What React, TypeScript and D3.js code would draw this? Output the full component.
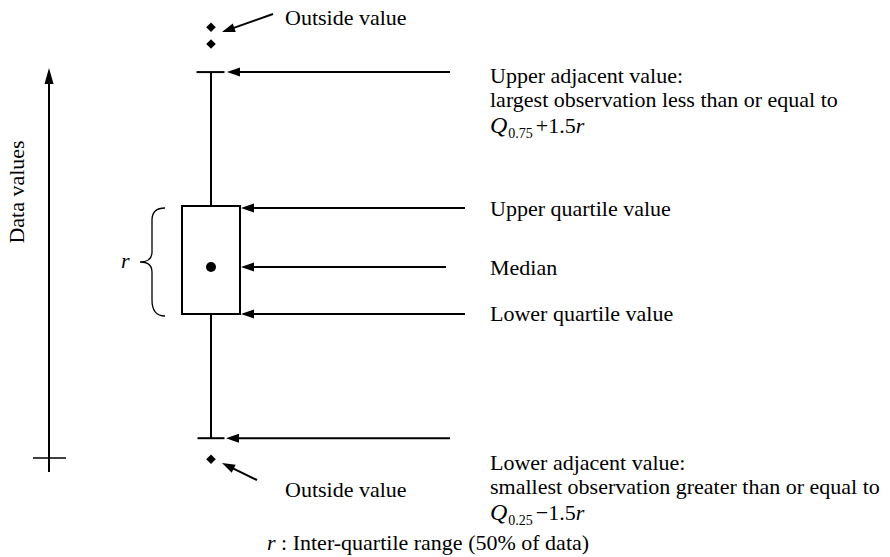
import * as d3 from 'd3';

// box plot statistics (data units)
const quartiles = [40, 60];
const median = 48.7;
const adjacent = [17, 84.8];
const outsideValues = [93.1, 90, 13.1];

const labelsUpperAdj = ['Upper adjacent value:', 'largest observation less than or equal to'];
const labelsLowerAdj = ['Lower adjacent value:', 'smallest observation greater than or equal to'];
const labelUpperQ = 'Upper quartile value';
const labelMedian = 'Median';
const labelLowerQ = 'Lower quartile value';
const labelOutside = 'Outside value';
const axisTitle = 'Data values';
const footnote = ': Inter-quartile range (50% of data)';

const W = 890;
const H = 557;
const FONT = "'Liberation Serif', 'DejaVu Serif', serif";
const FS = 22;

const Arrow = ({ x1, y1, x2, y2 }: { x1: number; y1: number; x2: number; y2: number }) => {
  // arrow from (x1,y1) tail to (x2,y2) tip
  const ang = Math.atan2(y2 - y1, x2 - x1);
  const len = 13;
  const half = 4.5;
  const bx = x2 - len * Math.cos(ang);
  const by = y2 - len * Math.sin(ang);
  const px = -Math.sin(ang) * half;
  const py = Math.cos(ang) * half;
  return (
    <g>
      <line x1={x1} y1={y1} x2={bx + 2 * Math.cos(ang)} y2={by + 2 * Math.sin(ang)} stroke="#000" strokeWidth={2} />
      <path d={`M${x2},${y2}L${bx + px},${by + py}L${bx - px},${by - py}Z`} fill="#000" />
    </g>
  );
};

export default function App() {
  const y = d3.scaleLinear().domain([0, 100]).range([530, -10]);
  const cx = 211;
  const boxW = 58;
  const capW = 27;
  const diamond = d3.symbol(d3.symbolSquare, 46)()!;

  const yQ1 = y(quartiles[0]);
  const yQ3 = y(quartiles[1]);
  const yLo = y(adjacent[0]);
  const yHi = y(adjacent[1]);
  const yMed = y(median);

  // curly brace for r
  const bx = 165;
  const bm = 152;
  const tip = 140;
  const midY = (yQ1 + yQ3) / 2 + 2;
  const brace = d3.path();
  brace.moveTo(bx, yQ3 + 2);
  brace.quadraticCurveTo(bm, yQ3 + 2, bm, yQ3 + 14);
  brace.lineTo(bm, midY - 10);
  brace.quadraticCurveTo(bm, midY, tip, midY);
  brace.quadraticCurveTo(bm, midY, bm, midY + 10);
  brace.lineTo(bm, yQ1 - 14);
  brace.quadraticCurveTo(bm, yQ1 + 2, bx, yQ1 + 2);

  const tx = 490;
  const lh = 24;
  const ts = { fontFamily: FONT, fontSize: FS };

  return (
    <svg width={W} height={H} style={{ position: 'absolute', left: 0, top: 0, background: '#fff', fontFamily: FONT, fontSize: FS }}>
      <rect width={W} height={H} fill="#fff" />

      {/* y axis */}
      <line x1={49} y1={472} x2={49} y2={82} stroke="#000" strokeWidth={2} />
      <path d="M49,68L44.5,84L53.5,84Z" fill="#000" />
      <line x1={33} y1={458} x2={66} y2={458} stroke="#000" strokeWidth={1.5} />
      <text style={ts} transform={`translate(24,192) rotate(-90)`} textAnchor="middle">{axisTitle}</text>

      {/* whiskers */}
      <line x1={cx} y1={yHi} x2={cx} y2={yQ3} stroke="#000" strokeWidth={2} />
      <line x1={cx} y1={yQ1} x2={cx} y2={yLo} stroke="#000" strokeWidth={2} />
      <line x1={cx - capW / 2 - 1} y1={yHi} x2={cx + capW / 2} y2={yHi} stroke="#000" strokeWidth={2} />
      <line x1={cx - capW / 2} y1={yLo} x2={cx + capW / 2} y2={yLo} stroke="#000" strokeWidth={2} />

      {/* box */}
      <rect x={cx - 29} y={yQ3} width={boxW} height={yQ1 - yQ3} fill="none" stroke="#000" strokeWidth={2} />
      <circle cx={cx} cy={yMed} r={5} fill="#000" />

      {/* outside values */}
      {outsideValues.map((v, i) => (
        <path key={i} d={diamond} transform={`translate(${cx},${y(v)}) rotate(45)`} fill="#000" />
      ))}

      {/* brace */}
      <path d={brace.toString()} fill="none" stroke="#000" strokeWidth={1.3} />
      <text style={{ ...ts, fontStyle: 'italic' }} x={121} y={midY + 6}>r</text>

      {/* arrows */}
      <Arrow x1={450} y1={yHi} x2={227} y2={yHi} />
      <Arrow x1={465} y1={yQ3 + 2} x2={241} y2={yQ3 + 2} />
      <Arrow x1={446} y1={yMed} x2={241} y2={yMed} />
      <Arrow x1={465} y1={yQ1} x2={241} y2={yQ1} />
      <Arrow x1={450} y1={yLo} x2={226} y2={yLo} />
      <Arrow x1={273} y1={14} x2={222} y2={32} />
      <Arrow x1={257} y1={480} x2={222} y2={463} />

      {/* labels */}
      <text style={ts} x={285} y={25}>{labelOutside}</text>
      <text style={ts} x={285} y={497}>{labelOutside}</text>

      <text style={ts} x={tx} y={83}>{labelsUpperAdj[0]}</text>
      <text style={ts} x={tx} y={83 + lh}>{labelsUpperAdj[1]}</text>
      <text style={{ ...ts, fontSize: 20 }} x={tx} y={84 + 2 * lh + 1}>
        <tspan fontStyle="italic" fontSize={24}>Q</tspan>
        <tspan fontSize={14} dy={5} dx={1}>0.75</tspan>
        <tspan dy={-5} dx={3} fontSize={22}>{'+1.5'}</tspan>
        <tspan fontStyle="italic" fontSize={22}>r</tspan>
      </text>

      <text style={ts} x={tx} y={216}>{labelUpperQ}</text>
      <text style={ts} x={tx} y={275}>{labelMedian}</text>
      <text style={ts} x={tx} y={321}>{labelLowerQ}</text>

      <text style={ts} x={tx} y={470}>{labelsLowerAdj[0]}</text>
      <text style={ts} x={tx} y={470 + lh}>{labelsLowerAdj[1]}</text>
      <text style={{ ...ts, fontSize: 20 }} x={tx} y={471 + 2 * lh + 1}>
        <tspan fontStyle="italic" fontSize={24}>Q</tspan>
        <tspan fontSize={14} dy={5} dx={1}>0.25</tspan>
        <tspan dy={-5} dx={3} fontSize={22}>{'\u22121.5'}</tspan>
        <tspan fontStyle="italic" fontSize={22}>r</tspan>
      </text>

      <text style={ts} x={267} y={550}>
        <tspan fontStyle="italic">r</tspan>
        <tspan>{' ' + footnote}</tspan>
      </text>
    </svg>
  );
}
